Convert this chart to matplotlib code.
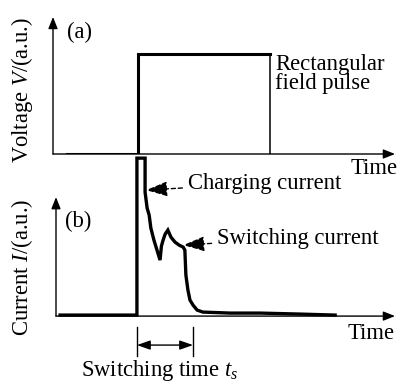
import matplotlib
matplotlib.use("Agg")
import matplotlib.pyplot as plt

plt.rcParams["font.family"] = ["Liberation Serif", "DejaVu Serif"]
plt.rcParams["mathtext.fontset"] = "custom"
plt.rcParams["mathtext.rm"] = "Liberation Serif"
plt.rcParams["mathtext.it"] = "Liberation Serif:italic"

# (a) rectangular field pulse, arbitrary time units
pulse_t = [0.4, 2.5, 2.5, 6.38, 6.38]
pulse_v = [0.0, 0.0, 1.0, 1.0, 0.0]

# (b) measured current trace
cur_t = [0.12, 2.38, 2.38, 2.62, 2.62, 2.68, 2.74, 2.79, 2.88, 2.97, 3.06,
         3.10, 3.15, 3.21, 3.29, 3.38, 3.50, 3.62, 3.74, 3.79, 3.82, 3.88,
         3.94, 4.03, 4.15, 4.32, 5.12, 6.00, 7.18, 8.21]
cur_i = [0.01, 0.01, 1.58, 1.58, 1.24, 1.08, 1.01, 0.88, 0.76, 0.66, 0.56,
         0.70, 0.76, 0.82, 0.86, 0.79, 0.74, 0.71, 0.69, 0.66, 0.41, 0.26,
         0.16, 0.11, 0.06, 0.04, 0.03, 0.03, 0.02, 0.01]

t_on, t_switch = 2.38, 4.03

FS = 16.3

fig = plt.figure(figsize=(4.0, 3.85), dpi=100)
ax_a = fig.add_axes([0.1325, 0.60, 0.855, 0.356])
ax_b = fig.add_axes([0.14, 0.179, 0.8475, 0.309])

for ax in (ax_a, ax_b):
    for s in ax.spines.values():
        s.set_visible(False)
    ax.set_xticks([])
    ax.set_yticks([])
    ax.patch.set_alpha(0)
    arrow = dict(arrowstyle="-|>,head_length=0.7,head_width=0.28", color="black", lw=1.0,
                 shrinkA=0, shrinkB=0)
    ax.annotate("", xy=(1, 0), xytext=(0, 0), xycoords="axes fraction", arrowprops=arrow)
    ax.annotate("", xy=(0, 1), xytext=(0, 0), xycoords="axes fraction", arrowprops=arrow)

ax_a.set_xlim(0, 10.06)
ax_a.set_ylim(0, 1.37)
ax_a.plot(pulse_t[:4], pulse_v[:4], color="black", lw=2.2, solid_joinstyle="miter")
ax_a.plot(pulse_t[3:], pulse_v[3:], color="black", lw=1.1)
ax_a.text(0.41, 1.21, "(a)", fontsize=FS, va="center")
ax_a.text(6.53, 0.80, "Rectangular\nfield pulse", fontsize=FS, va="center", linespacing=0.92)
ax_a.text(10.15, -0.14, "Time", fontsize=FS, ha="right", va="center")

ax_b.set_xlim(0, 9.97)
ax_b.set_ylim(0, 1.19)
ax_b.plot(cur_t, cur_i, color="black", lw=2.4, clip_on=False, solid_joinstyle="miter")
ax_b.text(0.27, 0.95, "(b)", fontsize=FS, va="center")
ax_b.text(9.97, -0.17, "Time", fontsize=FS, ha="right", va="center")

ax_b.annotate("Charging current", xy=(2.65, 1.26), xytext=(3.88, 1.33), fontsize=FS,
              va="center", annotation_clip=False,
              arrowprops=dict(arrowstyle="-|>,head_length=0.8,head_width=0.28",
                              color="black", lw=1.0, linestyle=(0, (3, 2)),
                              shrinkA=2, shrinkB=0))
ax_b.annotate("Switching current", xy=(3.74, 0.71), xytext=(4.74, 0.78), fontsize=FS,
              va="center", annotation_clip=False,
              arrowprops=dict(arrowstyle="-|>,head_length=0.8,head_width=0.28",
                              color="black", lw=1.0, linestyle=(0, (3, 2)),
                              shrinkA=2, shrinkB=0))

# switching-time bracket
for tt in (t_on, t_switch):
    ax_b.plot([tt, tt], [-0.11, -0.40], color="black", lw=1.0, clip_on=False)
ax_b.annotate("", xy=(t_on, -0.29), xytext=(t_switch, -0.29), annotation_clip=False,
              arrowprops=dict(arrowstyle="<|-|>,head_length=0.8,head_width=0.28",
                              color="black", lw=1.0, shrinkA=0, shrinkB=0))
ax_b.text(3.06, -0.595, "Switching time $t_s$", fontsize=FS, ha="center", va="baseline")

fig.text(0.055, 1 - 90 / 385, "Voltage $V$/(a.u.)", rotation=90, fontsize=FS,
         ha="center", va="center")
fig.text(0.055, 1 - 267 / 385, "Current $I$/(a.u.)", rotation=90, fontsize=FS,
         ha="center", va="center")

fig.savefig("out.png", dpi=100)
